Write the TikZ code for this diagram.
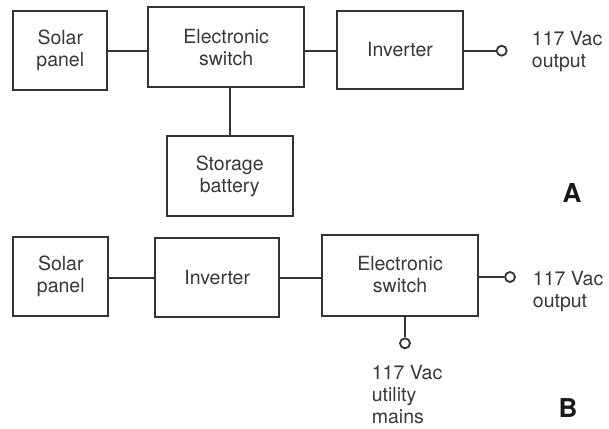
\documentclass[tikz,border=0pt]{standalone}
\usepackage{fontspec}
\setmainfont{TeX Gyre Heros}
\begin{document}
\begin{tikzpicture}[x=1pt,y=-1pt,
  ink/.style={draw=black!80, line width=2pt},
  blk/.style={ink, rectangle, align=center, inner sep=0pt,
    font=\fontsize{19.5}{22}\selectfont, text=black!78},
  term/.style={ink, circle, minimum size=10pt, inner sep=0pt, fill=white, line width=1.8pt},
  lbl/.style={align=left, inner sep=0pt, font=\fontsize{19.5}{22.5}\selectfont, text=black!78},
  tag/.style={inner sep=0pt, font=\fontsize{26}{26}\selectfont\bfseries, text=black!90}]
\useasboundingbox (0,0) rectangle (609,428);
% ---- A ----
\node[blk, minimum width=94pt, minimum height=79pt] (sp1) at (60.3,50.3) {Solar\\panel};
\node[blk, minimum width=155.7pt, minimum height=79.7pt] (es1) at (226.2,47.2) {Electronic\\switch};
\node[blk, minimum width=125.4pt, minimum height=78.6pt] (inv1) at (400,50) {Inverter};
\node[blk, minimum width=126pt, minimum height=80pt] (bat) at (229.7,176) {Storage\\battery};
\node[term] (o1) at (501.7,50.7) {};
\node[lbl, anchor=north west] (t1) at (531.7,31) {117 Vac\\output};
\node[tag] (ta) at (572,193) {A};
\draw[ink] (sp1.east |- 0,50.7) -- (es1.west |- 0,50.7);
\draw[ink] (es1.east |- 0,50.7) -- (inv1.west |- 0,50.7);
\draw[ink] (inv1.east |- o1.west) -- (o1.west);
\draw[ink] (bat.north) -- (bat.north |- es1.south);
% ---- B ----
\node[blk, minimum width=95pt, minimum height=79pt] (sp2) at (60.8,276.2) {Solar\\panel};
\node[blk, minimum width=124.3pt, minimum height=78.4pt] (inv2) at (217.2,277.5) {Inverter};
\node[blk, minimum width=156.6pt, minimum height=81pt] (es2) at (400,275) {Electronic\\switch};
\node[term] (o2) at (510,277) {};
\node[term] (o3) at (405,343.3) {};
\node[lbl, anchor=north west] (t2) at (532.7,271) {117 Vac\\output};
\node[lbl, anchor=north west, font=\fontsize{19.5}{22}\selectfont] (t3) at (371.7,365) {117 Vac\\utility\\mains};
\node[tag] (tb) at (568,408) {B};
\draw[ink] (sp2.east |- 0,278.3) -- (inv2.west |- 0,278.3);
\draw[ink] (inv2.east |- 0,278.3) -- (es2.west |- 0,278.3);
\draw[ink] (es2.east |- o2.west) -- (o2.west);
\draw[ink] (o3.north) -- (o3.north |- es2.south);
\end{tikzpicture}
\end{document}
